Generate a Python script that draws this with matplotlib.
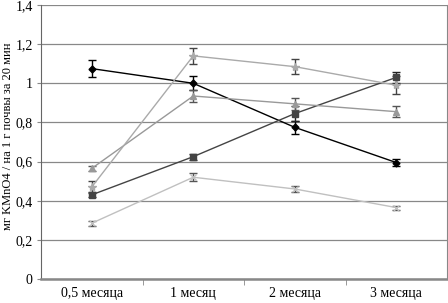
import matplotlib
matplotlib.use("Agg")
import matplotlib.pyplot as plt
import numpy as np

categories = ["0,5 месяца", "1 месяц", "2 месяца", "3 месяца"]
s1 = [1.075, 1.00, 0.775, 0.595]
e1 = [0.043, 0.036, 0.034, 0.02]
s2 = [0.43, 0.625, 0.845, 1.03]
e2 = [0.012, 0.015, 0.04, 0.03]
s3 = [0.565, 0.935, 0.895, 0.855]
e3 = [0.012, 0.03, 0.03, 0.027]
s4 = [0.47, 1.14, 1.085, 0.99]
e4 = [0.03, 0.04, 0.04, 0.045]
s5 = [0.285, 0.52, 0.46, 0.365]
e5 = [0.012, 0.02, 0.015, 0.01]

plt.rcParams['font.family'] = ['Liberation Serif', 'DejaVu Serif']

fig = plt.figure(figsize=(4.48, 3.03), dpi=100)
ax = fig.add_axes([41/448, 1 - 279/303, 406/448, 274/303])

x = np.arange(len(categories))
styles = [
    (s1, e1, '#000000', 'D', 3.5, '#000000'),
    (s2, e2, '#444444', 's', 4, '#222222'),
    (s3, e3, '#999999', '^', 4.5, '#555555'),
    (s4, e4, '#aaaaaa', '*', 6, '#444444'),
    (s5, e5, '#c0c0c0', 'x', 4, '#555555'),
]
for ys, es, c, m, ms, ec in styles:
    ax.errorbar(x, ys, yerr=es, color=c, marker=m, markersize=ms, lw=1.0,
                ecolor=ec, elinewidth=1.0, capsize=3, capthick=1.0,
                markeredgecolor=c, markerfacecolor=c, zorder=3)

ax.set_xlim(-0.5, 3.5)
ax.set_ylim(0, 1.4)
ax.set_yticks(np.arange(0, 1.41, 0.2))
ax.set_yticklabels(['0', '0,2', '0,4', '0,6', '0,8', '1', '1,2', '1,4'])
ax.set_xticks(x)
ax.set_xticklabels(categories)
ax.set_xticks([0.5, 1.5, 2.5], minor=True)
ax.tick_params(axis='x', which='major', length=0, pad=6, labelsize=10)
ax.tick_params(axis='x', which='minor', length=4, color='#888888')
ax.tick_params(axis='y', length=3, color='#888888', labelsize=10, pad=3)
ax.yaxis.grid(True, color='#888888', lw=0.9)
ax.set_axisbelow(True)
ax.spines['top'].set_visible(False)
ax.spines['left'].set_color('#666666')
ax.spines['right'].set_color('#888888')
ax.spines['bottom'].set_color('#888888')
ax.spines['bottom'].set_linewidth(1.8)
ax.set_ylabel("мг KMnO4 / на 1 г почвы за 20 мин", fontsize=9)
ax.yaxis.set_label_coords(-27/406, 0.52)

fig.savefig("out.png", dpi=100)
